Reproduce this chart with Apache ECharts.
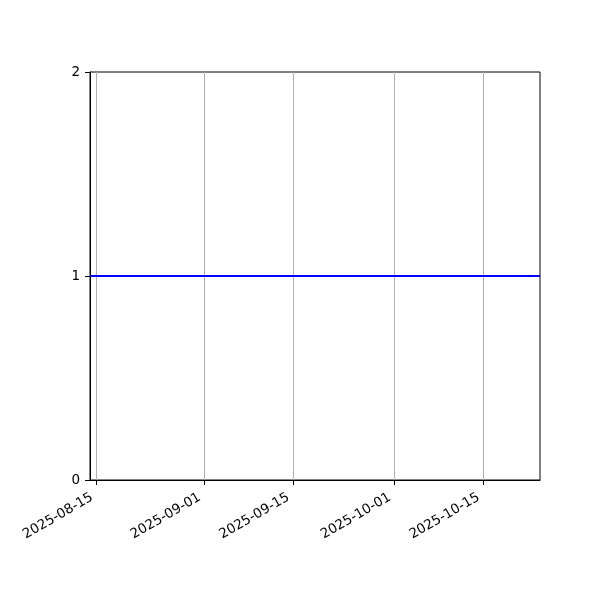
<!DOCTYPE html>
<html>
<head>
<meta charset="utf-8">
<script src="https://cdn.jsdelivr.net/npm/echarts@6/dist/echarts.min.js"></script>
<style>html,body{margin:0;padding:0;background:#fff;}#c{width:600px;height:600px;}</style>
</head>
<body>
<div id="c"></div>
<script>
var dates = ['2025-08-14', '2025-10-24'];
var values = [1, 1];
var xTicks = ['2025-08-15', '2025-09-01', '2025-09-15', '2025-10-01', '2025-10-15'];
var xMin = '2025-08-14';
var xMax = '2025-10-24';
var yTicks = [0, 1, 2];

function ts(s) { return echarts.time.parse(s).getTime(); }
function fmt(v) { return echarts.time.format(v, '{yyyy}-{MM}-{dd}', false); }

var chart = echarts.init(document.getElementById('c'), null, {renderer: 'canvas'});
var font = 'DejaVu Sans';
chart.setOption({
  animation: false,
  grid: {left: 90, right: 60, top: 72, bottom: 120, show: true, borderColor: '#000', borderWidth: 1, backgroundColor: 'transparent'},
  xAxis: {
    type: 'value',
    min: ts(xMin),
    max: ts(xMax),
    axisLine: {show: true, onZero: false, lineStyle: {color: '#000', width: 1}},
    axisTick: {show: true, length: 5, lineStyle: {color: '#000'}, customValues: xTicks.map(ts)},
    axisLabel: {
      show: true, rotate: 30, color: '#000', fontFamily: font, fontSize: 13.5, margin: 14,
      padding: [0, 5, 0, 0],
      customValues: xTicks.map(ts),
      formatter: fmt
    },
    splitLine: {show: true, lineStyle: {color: '#b0b0b0', width: 1}}
  },
  yAxis: {
    type: 'value',
    min: 0, max: 2, interval: 1,
    axisLine: {show: true, lineStyle: {color: '#000', width: 1}},
    axisTick: {show: true, length: 5, lineStyle: {color: '#000'}, customValues: yTicks},
    axisLabel: {color: '#000', fontFamily: font, fontSize: 13.5, margin: 10, customValues: yTicks},
    splitLine: {show: false}
  },
  series: [{
    type: 'line',
    data: dates.map(function (d, i) { return [ts(d), values[i]]; }),
    showSymbol: false,
    lineStyle: {color: '#0000ff', width: 2},
    itemStyle: {color: '#0000ff'}
  }]
});
</script>
</body>
</html>
